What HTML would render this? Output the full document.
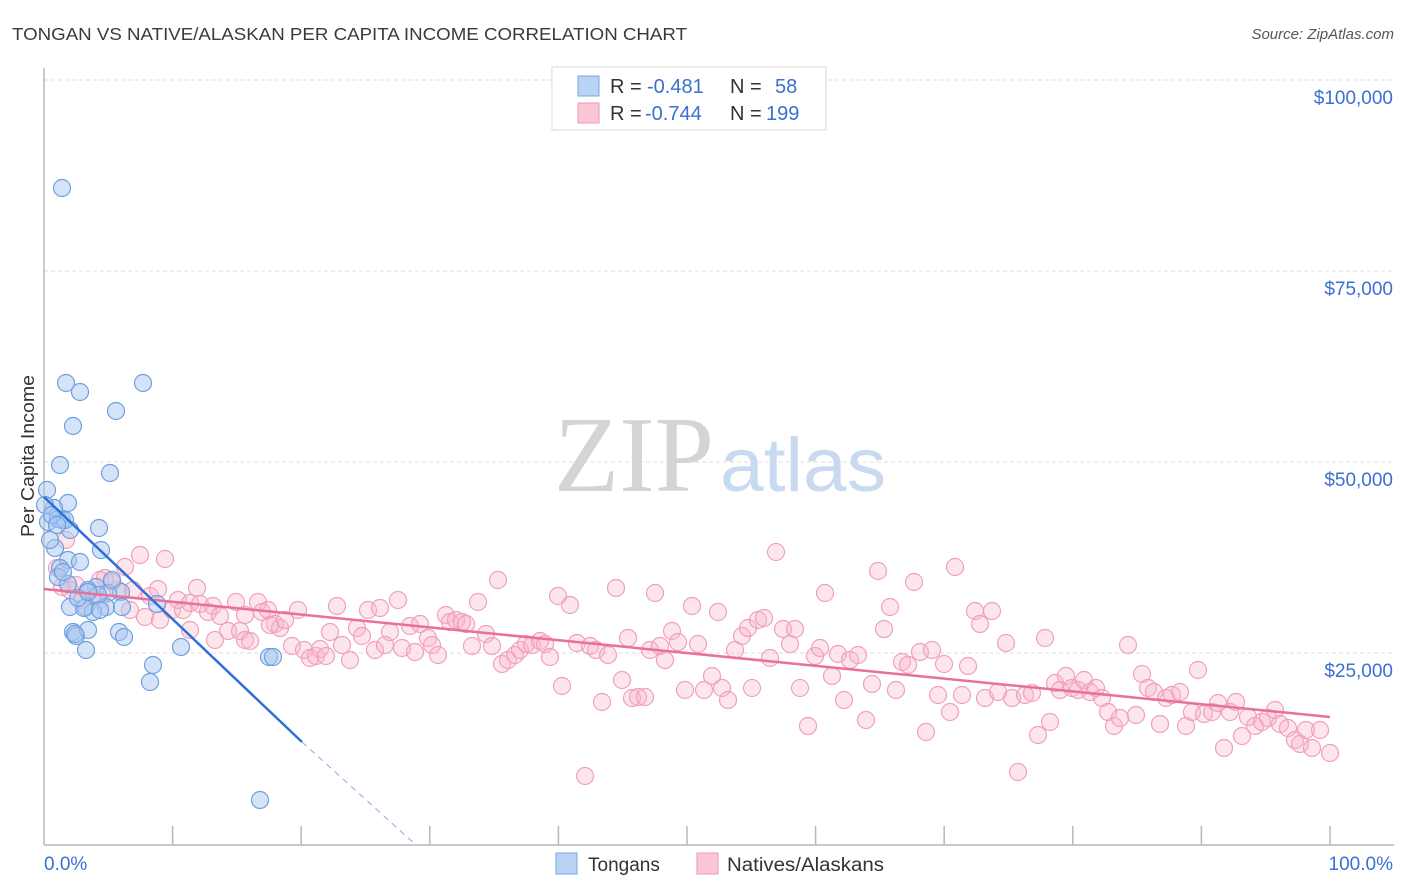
<!DOCTYPE html>
<html><head><meta charset="utf-8"><style>
body{margin:0;background:#fff;font-family:"Liberation Sans",sans-serif;}
svg{display:block}
</style></head><body>
<svg id="s" width="1406" height="892" xmlns="http://www.w3.org/2000/svg" font-family="Liberation Sans, sans-serif">
<text x="12" y="40" font-size="17.5" fill="#3a3a3a" textLength="675" lengthAdjust="spacingAndGlyphs">TONGAN VS NATIVE/ALASKAN PER CAPITA INCOME CORRELATION CHART</text>
<text x="1394" y="39" font-size="15" fill="#555" text-anchor="end" font-style="italic">Source: ZipAtlas.com</text>
<g stroke="#dcdcdc" stroke-dasharray="4,3" stroke-width="1">
<line x1="44" y1="80" x2="1394" y2="80"/><line x1="44" y1="271" x2="1394" y2="271"/>
<line x1="44" y1="462" x2="1394" y2="462"/><line x1="44" y1="653" x2="1394" y2="653"/>
</g>
<g font-size="19" fill="#3a70d0" text-anchor="end">
<text x="1393" y="104">$100,000</text><text x="1393" y="295">$75,000</text>
<text x="1393" y="486">$50,000</text><text x="1393" y="677">$25,000</text>
</g>
<text x="714" y="491" font-size="108" fill="#d4d4d4" text-anchor="end" font-family="Liberation Serif, serif" textLength="160" lengthAdjust="spacingAndGlyphs">ZIP</text>
<text x="720" y="491" font-size="76" fill="#c8d9f0" textLength="166" lengthAdjust="spacingAndGlyphs">atlas</text>
<g stroke="#b8b8b8" stroke-width="1.5" id="ax">
<line x1="44" y1="68" x2="44" y2="845"/><line x1="44" y1="845" x2="1394" y2="845"/>
</g>
<text transform="translate(34,456) rotate(-90)" font-size="18" fill="#333" text-anchor="middle" textLength="162" lengthAdjust="spacingAndGlyphs">Per Capita Income</text>
<text x="44" y="870" font-size="19" fill="#3a70d0">0.0%</text>
<text x="1393" y="870" font-size="19" fill="#3a70d0" text-anchor="end">100.0%</text>
<g id="pts"></g>
<line x1="44" y1="589" x2="1330" y2="717" stroke="#e8709a" stroke-width="2.5"/>
<line x1="44" y1="497" x2="302" y2="742" stroke="#2e6fd8" stroke-width="2.5"/>
<line x1="302" y1="742" x2="416" y2="845" stroke="#8ea8e0" stroke-width="1" stroke-dasharray="6,5"/>
<rect x="552" y="67" width="274" height="63" fill="#fff" stroke="#d8d8d8"/>
<rect x="578" y="76" width="21" height="20" fill="#b9d3f5" stroke="#7aa5e3"/>
<rect x="578" y="103" width="21" height="20" fill="#fbc6d5" stroke="#ee98b4"/>
<g font-size="20"><text x="610" y="93" fill="#333">R = </text><text x="647" y="93" fill="#3a70d0">-0.481</text>
<text x="730" y="93" fill="#333">N = </text><text x="775" y="93" fill="#3a70d0">58</text>
<text x="610" y="120" fill="#333">R = </text><text x="645" y="120" fill="#3a70d0">-0.744</text>
<text x="730" y="120" fill="#333">N = </text><text x="766" y="120" fill="#3a70d0">199</text></g>
<rect x="556" y="853" width="21" height="21" fill="#b9d3f5" stroke="#7aa5e3"/>
<text x="588" y="871" font-size="19" fill="#333">Tongans</text>
<rect x="697" y="853" width="21" height="21" fill="#fbc6d5" stroke="#ee98b4"/>
<text x="727" y="871" font-size="19" fill="#333" textLength="157" lengthAdjust="spacingAndGlyphs">Natives/Alaskans</text>
</svg>
<script>
var s=document.getElementById('s'),ax=document.getElementById('ax'),g=document.getElementById('pts'),N='http://www.w3.org/2000/svg';
for(var k=1;k<=10;k++){var x=44+128.6*k,l=document.createElementNS(N,'line');l.setAttribute('x1',x);l.setAttribute('x2',x);l.setAttribute('y1',826);l.setAttribute('y2',845);ax.appendChild(l);}
var P=[57,568,62,587,66,540,70,590,76,585,82,600,92,596,100,580,105,578,112,582,118,590,125,567,133,590,140,555,145,617,150,596,158,589,165,559,172,610,178,600,183,610,190,603,197,588,200,604,208,612,213,606,220,616,228,631,236,602,240,631,245,640,250,641,258,602,262,612,268,610,275,624,280,628,285,620,292,646,298,610,304,650,310,658,316,656,320,649,326,656,330,632,337,606,342,645,350,660,357,628,362,636,368,610,375,650,380,608,385,645,390,632,398,600,402,648,410,626,415,652,420,624,428,638,432,645,438,655,446,615,450,622,456,620,462,622,466,624,472,646,478,602,486,634,492,646,498,580,502,664,508,660,515,655,520,650,526,644,532,645,540,641,545,644,550,657,558,596,562,686,570,605,577,643,585,776,590,646,596,650,602,702,608,655,616,588,622,680,628,638,632,698,638,697,645,697,650,650,655,593,660,646,665,660,672,631,678,642,685,690,692,606,698,644,704,690,712,676,718,612,722,688,728,700,735,650,742,636,748,628,752,688,758,620,764,618,770,658,776,552,783,629,790,644,795,629,800,688,808,726,815,656,820,648,825,593,832,676,838,654,844,700,850,660,858,655,866,720,872,684,878,571,884,629,890,607,896,690,902,662,908,665,914,582,920,652,926,732,932,650,938,695,944,664,950,712,955,567,962,695,968,666,975,611,980,624,985,698,992,611,998,692,1006,643,1012,698,1018,772,1025,695,1032,693,1038,735,1045,638,1050,722,1055,683,1060,690,1066,676,1072,688,1078,690,1084,680,1090,692,1096,688,1102,698,1108,712,1114,726,1120,718,1128,645,1136,715,1142,674,1148,688,1154,692,1160,724,1166,698,1172,695,1180,692,1186,726,1192,712,1198,670,1204,714,1212,712,1218,703,1224,748,1230,712,1236,702,1242,736,1248,717,1255,726,1262,722,1268,718,1275,710,1280,724,1288,728,1295,740,1300,744,1306,730,1312,748,1320,730,1330,753,100,600,130,610,160,620,190,630,215,640,245,615,270,625];
var B=[62,188,66,383,143,383,80,392,116,411,73,426,60,465,110,473,47,490,68,503,54,508,62,520,48,522,58,519,70,530,99,528,55,548,101,550,68,560,80,562,60,568,58,577,68,584,96,587,88,590,121,592,108,593,70,607,86,607,106,607,122,607,93,612,157,604,73,632,76,636,88,630,119,632,124,637,86,650,153,665,181,647,150,682,269,657,273,657,260,800,45,505,50,540,65,520,84,608,98,595,112,580,78,598,52,515,57,525,100,610,63,572,75,634,88,592];
function d(a,f,st){for(var i=0;i<a.length;i+=2){var c=document.createElementNS(N,'circle');c.setAttribute('cx',a[i]);c.setAttribute('cy',a[i+1]);c.setAttribute('r',8.5);c.setAttribute('fill',f);c.setAttribute('stroke',st);c.setAttribute('stroke-width',1.2);g.appendChild(c);}}
d(P,'rgba(248,180,200,0.35)','#f0a0bb');d(B,'rgba(170,200,240,0.5)','#6f9fe0');
</script>
</body></html>
